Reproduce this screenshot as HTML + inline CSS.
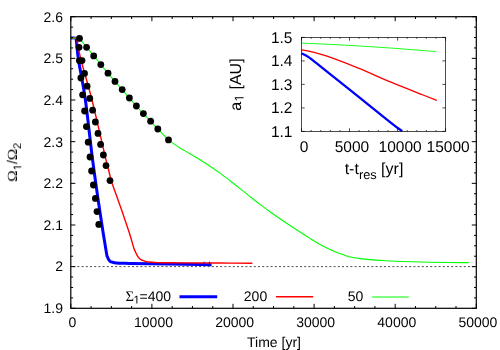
<!DOCTYPE html><html><head><meta charset="utf-8"><title>plot</title>
<style>html,body{margin:0;padding:0;background:#fff;}svg{display:block;}text{font-family:"Liberation Sans",sans-serif;fill:#000;text-rendering:geometricPrecision;}.s{font-family:"Liberation Serif",serif;}</style></head><body>
<svg width="500" height="350" viewBox="0 0 500 350">
<rect width="500" height="350" fill="#fff"/>
<line x1="70.8" y1="266.6" x2="476.3" y2="266.6" stroke="#000" stroke-width="0.7" stroke-dasharray="2,2.2" stroke-dashoffset="1.8"/>
<path d="M70.80 38.00C71.57 38.02 74.47 37.60 75.40 38.10C76.33 38.60 75.88 37.35 76.40 41.00C76.92 44.65 77.00 50.17 78.50 60.00C80.00 69.83 83.05 83.33 85.40 100.00C87.75 116.67 90.10 140.83 92.60 160.00C95.10 179.17 98.12 199.67 100.40 215.00C102.68 230.33 105.12 245.00 106.30 252.00C107.48 259.00 107.05 255.67 107.50 257.00C107.95 258.33 108.42 259.20 109.00 260.00C109.58 260.80 109.83 261.30 111.00 261.80C112.17 262.30 112.83 262.73 116.00 263.00C119.17 263.27 121.00 263.23 130.00 263.40C139.00 263.57 158.33 263.82 170.00 264.00C181.67 264.18 193.07 264.38 200.00 264.50C206.93 264.62 209.67 264.67 211.60 264.70" fill="none" stroke="#0000ff" stroke-width="3.0" stroke-linejoin="round"/>
<path d="M70.80 38.00C71.60 38.00 74.57 37.58 75.60 38.00C76.63 38.42 76.10 36.83 77.00 40.50C77.90 44.17 78.50 50.08 81.00 60.00C83.50 69.92 87.83 83.33 92.00 100.00C96.17 116.67 103.23 148.33 106.00 160.00C108.77 171.67 107.73 166.57 108.60 170.00C109.47 173.43 110.40 177.77 111.20 180.60C112.00 183.43 112.67 184.93 113.40 187.00C114.13 189.07 114.88 191.00 115.60 193.00C116.32 195.00 117.00 197.00 117.70 199.00C118.40 201.00 119.12 203.08 119.80 205.00C120.48 206.92 121.10 208.50 121.80 210.50C122.50 212.50 123.35 215.08 124.00 217.00C124.65 218.92 125.08 220.17 125.70 222.00C126.32 223.83 127.03 226.00 127.70 228.00C128.37 230.00 129.07 232.00 129.70 234.00C130.33 236.00 130.82 237.67 131.50 240.00C132.18 242.33 133.12 245.95 133.80 248.00C134.48 250.05 135.07 251.10 135.60 252.30C136.13 253.50 136.60 254.45 137.00 255.20C137.40 255.95 137.67 256.33 138.00 256.80C138.33 257.27 138.50 257.53 139.00 258.00C139.50 258.47 140.33 259.18 141.00 259.60C141.67 260.02 142.33 260.23 143.00 260.50C143.67 260.77 144.00 260.95 145.00 261.20C146.00 261.45 147.00 261.77 149.00 262.00C151.00 262.23 154.33 262.47 157.00 262.60C159.67 262.73 160.17 262.75 165.00 262.80C169.83 262.85 176.83 262.87 186.00 262.90C195.17 262.93 208.93 262.93 220.00 263.00C231.07 263.07 247.00 263.25 252.40 263.30" fill="none" stroke="#ff0000" stroke-width="1.4" stroke-linejoin="round"/>
<path d="M70.80 38.00C71.75 38.00 75.05 37.88 76.50 38.00C77.95 38.12 77.82 37.15 79.50 38.70C81.18 40.25 84.22 44.43 86.60 47.30C88.98 50.17 91.43 53.02 93.80 55.90C96.17 58.78 98.43 61.72 100.80 64.60C103.17 67.48 105.63 70.40 108.00 73.20C110.37 76.00 112.63 78.65 115.00 81.40C117.37 84.15 119.80 86.93 122.20 89.70C124.60 92.47 127.03 95.28 129.40 98.00C131.77 100.72 134.07 103.40 136.40 106.00C138.73 108.60 141.03 111.07 143.40 113.60C145.77 116.13 148.20 118.63 150.60 121.20C153.00 123.77 154.82 125.88 157.80 129.00C160.78 132.12 165.80 137.42 168.50 139.90C171.20 142.38 172.08 142.55 174.00 143.90C175.92 145.25 177.33 146.37 180.00 148.00C182.67 149.63 186.67 151.73 190.00 153.70C193.33 155.67 196.67 157.72 200.00 159.80C203.33 161.88 206.67 163.98 210.00 166.20C213.33 168.42 216.67 170.68 220.00 173.10C223.33 175.52 226.67 178.12 230.00 180.70C233.33 183.28 236.67 185.95 240.00 188.60C243.33 191.25 246.67 193.97 250.00 196.60C253.33 199.23 256.67 201.87 260.00 204.40C263.33 206.93 266.67 209.40 270.00 211.80C273.33 214.20 276.67 216.52 280.00 218.80C283.33 221.08 286.67 223.30 290.00 225.50C293.33 227.70 296.67 229.85 300.00 232.00C303.33 234.15 306.67 236.33 310.00 238.40C313.33 240.47 316.67 242.57 320.00 244.40C323.33 246.23 326.67 247.87 330.00 249.40C333.33 250.93 337.33 252.53 340.00 253.60C342.67 254.67 344.33 255.23 346.00 255.80C347.67 256.37 348.50 256.65 350.00 257.00C351.50 257.35 353.33 257.63 355.00 257.90C356.67 258.17 357.50 258.32 360.00 258.60C362.50 258.88 366.67 259.30 370.00 259.60C373.33 259.90 376.67 260.17 380.00 260.40C383.33 260.63 384.67 260.77 390.00 261.00C395.33 261.23 402.67 261.55 412.00 261.80C421.33 262.05 436.53 262.37 446.00 262.50C455.47 262.63 465.00 262.58 468.80 262.60" fill="none" stroke="#00ff00" stroke-width="1.1" stroke-linejoin="round"/>
<path d="M203.3 263.5l0.8 -2.4l0.9 2.4zM208.6 263.5l0.9 -2.8l0.9 2.8z" fill="#0000ff" opacity="0.75"/>
<circle cx="79.5" cy="38.4" r="3.4" fill="#000"/>
<circle cx="86.6" cy="47.3" r="3.4" fill="#000"/>
<circle cx="93.7" cy="55.9" r="3.4" fill="#000"/>
<circle cx="100.8" cy="64.6" r="3.4" fill="#000"/>
<circle cx="108" cy="73.2" r="3.4" fill="#000"/>
<circle cx="115" cy="81.4" r="3.4" fill="#000"/>
<circle cx="122.2" cy="89.6" r="3.4" fill="#000"/>
<circle cx="129.4" cy="98" r="3.4" fill="#000"/>
<circle cx="136.4" cy="106" r="3.4" fill="#000"/>
<circle cx="143.4" cy="113.6" r="3.4" fill="#000"/>
<circle cx="150.6" cy="121.2" r="3.4" fill="#000"/>
<circle cx="157.8" cy="129" r="3.4" fill="#000"/>
<circle cx="168.5" cy="139.9" r="3.4" fill="#000"/>
<circle cx="79" cy="47.3" r="3.4" fill="#000"/>
<circle cx="79.3" cy="60.6" r="3.4" fill="#000"/>
<circle cx="80.9" cy="78" r="3.4" fill="#000"/>
<circle cx="82.6" cy="94.8" r="3.4" fill="#000"/>
<circle cx="84.6" cy="111" r="3.4" fill="#000"/>
<circle cx="86.4" cy="126.6" r="3.4" fill="#000"/>
<circle cx="88.2" cy="142.2" r="3.4" fill="#000"/>
<circle cx="90" cy="157" r="3.4" fill="#000"/>
<circle cx="91.6" cy="171" r="3.4" fill="#000"/>
<circle cx="93.4" cy="185" r="3.4" fill="#000"/>
<circle cx="95.4" cy="198.4" r="3.4" fill="#000"/>
<circle cx="97" cy="211.6" r="3.4" fill="#000"/>
<circle cx="98.8" cy="224.4" r="3.4" fill="#000"/>
<circle cx="82" cy="60.6" r="3.4" fill="#000"/>
<circle cx="84.5" cy="73.4" r="3.4" fill="#000"/>
<circle cx="87.1" cy="86.2" r="3.4" fill="#000"/>
<circle cx="89.8" cy="98.4" r="3.4" fill="#000"/>
<circle cx="92.6" cy="110.2" r="3.4" fill="#000"/>
<circle cx="95.4" cy="122" r="3.4" fill="#000"/>
<circle cx="98" cy="133.4" r="3.4" fill="#000"/>
<circle cx="100.6" cy="144.4" r="3.4" fill="#000"/>
<circle cx="103.4" cy="155" r="3.4" fill="#000"/>
<circle cx="106" cy="165.6" r="3.4" fill="#000"/>
<circle cx="110" cy="180.6" r="3.4" fill="#000"/>
<rect x="70.8" y="16.7" width="405.5" height="291.6" fill="none" stroke="#000" stroke-width="1.2"/>
<path d="M70.80 308.3v-4.5M70.80 16.7v4.5M91.08 308.3v-2.3M91.08 16.7v2.3M111.35 308.3v-2.3M111.35 16.7v2.3M131.62 308.3v-2.3M131.62 16.7v2.3M151.90 308.3v-4.5M151.90 16.7v4.5M172.18 308.3v-2.3M172.18 16.7v2.3M192.45 308.3v-2.3M192.45 16.7v2.3M212.72 308.3v-2.3M212.72 16.7v2.3M233.00 308.3v-4.5M233.00 16.7v4.5M253.27 308.3v-2.3M253.27 16.7v2.3M273.55 308.3v-2.3M273.55 16.7v2.3M293.82 308.3v-2.3M293.82 16.7v2.3M314.10 308.3v-4.5M314.10 16.7v4.5M334.38 308.3v-2.3M334.38 16.7v2.3M354.65 308.3v-2.3M354.65 16.7v2.3M374.93 308.3v-2.3M374.93 16.7v2.3M395.20 308.3v-4.5M395.20 16.7v4.5M415.48 308.3v-2.3M415.48 16.7v2.3M435.75 308.3v-2.3M435.75 16.7v2.3M456.02 308.3v-2.3M456.02 16.7v2.3M476.30 308.3v-4.5M476.30 16.7v4.5M70.8 308.30h4.5M476.3 308.30h-4.5M70.8 297.89h2.3M476.3 297.89h-2.3M70.8 287.47h2.3M476.3 287.47h-2.3M70.8 277.06h2.3M476.3 277.06h-2.3M70.8 266.64h4.5M476.3 266.64h-4.5M70.8 256.23h2.3M476.3 256.23h-2.3M70.8 245.81h2.3M476.3 245.81h-2.3M70.8 235.40h2.3M476.3 235.40h-2.3M70.8 224.99h4.5M476.3 224.99h-4.5M70.8 214.57h2.3M476.3 214.57h-2.3M70.8 204.16h2.3M476.3 204.16h-2.3M70.8 193.74h2.3M476.3 193.74h-2.3M70.8 183.33h4.5M476.3 183.33h-4.5M70.8 172.91h2.3M476.3 172.91h-2.3M70.8 162.50h2.3M476.3 162.50h-2.3M70.8 152.09h2.3M476.3 152.09h-2.3M70.8 141.67h4.5M476.3 141.67h-4.5M70.8 131.26h2.3M476.3 131.26h-2.3M70.8 120.84h2.3M476.3 120.84h-2.3M70.8 110.43h2.3M476.3 110.43h-2.3M70.8 100.01h4.5M476.3 100.01h-4.5M70.8 89.60h2.3M476.3 89.60h-2.3M70.8 79.19h2.3M476.3 79.19h-2.3M70.8 68.77h2.3M476.3 68.77h-2.3M70.8 58.36h4.5M476.3 58.36h-4.5M70.8 47.94h2.3M476.3 47.94h-2.3M70.8 37.53h2.3M476.3 37.53h-2.3M70.8 27.11h2.3M476.3 27.11h-2.3M70.8 16.70h4.5M476.3 16.70h-4.5" stroke="#000" stroke-width="1" fill="none"/>
<line x1="179.5" y1="296.8" x2="217.2" y2="296.8" stroke="#0000ff" stroke-width="3.0"/>
<line x1="276" y1="296.8" x2="313.2" y2="296.8" stroke="#ff0000" stroke-width="1.4"/>
<line x1="372" y1="297" x2="408.8" y2="297" stroke="#00ff00" stroke-width="1.15"/>
<rect x="301.5" y="37.4" width="144.10000000000002" height="94.0" fill="#fff" stroke="none"/>
<path d="M301.50 53.40C302.25 53.75 304.42 54.60 306.00 55.50C307.58 56.40 307.50 56.12 311.00 58.80C314.50 61.48 319.00 65.20 327.00 71.60C335.00 78.00 348.33 88.67 359.00 97.20C369.67 105.73 383.80 117.13 391.00 122.80C398.20 128.47 400.33 129.80 402.20 131.20" fill="none" stroke="#0000ff" stroke-width="2.3" stroke-linejoin="round"/>
<path d="M301.50 49.80C303.08 50.10 306.75 50.53 311.00 51.60C315.25 52.67 319.00 53.40 327.00 56.20C335.00 59.00 348.33 64.07 359.00 68.40C369.67 72.73 380.33 77.77 391.00 82.20C401.67 86.63 415.37 91.97 423.00 95.00C430.63 98.03 434.50 99.50 436.80 100.40" fill="none" stroke="#ff0000" stroke-width="1.3" stroke-linejoin="round"/>
<path d="M301.50 43.10C307.92 43.40 326.92 44.20 340.00 44.90C353.08 45.60 368.33 46.53 380.00 47.30C391.67 48.07 400.70 48.78 410.00 49.50C419.30 50.22 431.50 51.25 435.80 51.60" fill="none" stroke="#00ff00" stroke-width="0.9" stroke-linejoin="round"/>
<rect x="301.5" y="37.4" width="144.10000000000002" height="94.0" fill="none" stroke="#000" stroke-width="0.7"/>
<path d="M301.50 131.4v-3.2M301.50 37.4v3.2M311.11 131.4v-1.4M311.11 37.4v1.4M320.71 131.4v-1.4M320.71 37.4v1.4M330.32 131.4v-1.4M330.32 37.4v1.4M339.93 131.4v-1.4M339.93 37.4v1.4M349.53 131.4v-3.2M349.53 37.4v3.2M359.14 131.4v-1.4M359.14 37.4v1.4M368.75 131.4v-1.4M368.75 37.4v1.4M378.35 131.4v-1.4M378.35 37.4v1.4M387.96 131.4v-1.4M387.96 37.4v1.4M397.57 131.4v-3.2M397.57 37.4v3.2M407.17 131.4v-1.4M407.17 37.4v1.4M416.78 131.4v-1.4M416.78 37.4v1.4M426.39 131.4v-1.4M426.39 37.4v1.4M435.99 131.4v-1.4M435.99 37.4v1.4M445.60 131.4v-3.2M445.60 37.4v3.2M301.5 37.40h3.2M445.6 37.40h-3.2M301.5 60.90h3.2M445.6 60.90h-3.2M301.5 84.40h3.2M445.6 84.40h-3.2M301.5 107.90h3.2M445.6 107.90h-3.2M301.5 131.40h3.2M445.6 131.40h-3.2" stroke="#000" stroke-width="0.7" fill="none"/>
<g opacity="0.999"><text x="63" y="313.1" font-size="14.0" text-anchor="end">1.9</text>
<text x="63" y="271.4" font-size="14.0" text-anchor="end">2</text>
<text x="63" y="229.8" font-size="14.0" text-anchor="end">2.1</text>
<text x="63" y="188.1" font-size="14.0" text-anchor="end">2.2</text>
<text x="63" y="146.5" font-size="14.0" text-anchor="end">2.3</text>
<text x="63" y="104.8" font-size="14.0" text-anchor="end">2.4</text>
<text x="63" y="63.2" font-size="14.0" text-anchor="end">2.5</text>
<text x="63" y="21.5" font-size="14.0" text-anchor="end">2.6</text>
<text x="72.4" y="327" font-size="14.0" text-anchor="middle">0</text>
<text x="153.5" y="327" font-size="14.0" text-anchor="middle">10000</text>
<text x="234.6" y="327" font-size="14.0" text-anchor="middle">20000</text>
<text x="315.7" y="327" font-size="14.0" text-anchor="middle">30000</text>
<text x="396.8" y="327" font-size="14.0" text-anchor="middle">40000</text>
<text x="477.9" y="327" font-size="14.0" text-anchor="middle">50000</text>
<text x="274" y="347.2" font-size="14.0" text-anchor="middle">Time [yr]</text>
<g transform="translate(17.0,162.3) rotate(-90)"><text x="-19.47" y="0.00" font-size="14.0" class="s" textLength="11.44" lengthAdjust="spacingAndGlyphs">Ω</text><path d="M-5.18 4.20L-5.18 -2.56L-6.92 -1.32L-6.92 -2.25L-5.10 -3.51L-4.19 -3.51L-4.19 4.20Z" fill="#000"/><text x="-1.79" y="0.00" font-size="14.0">/</text><text x="2.09" y="0.00" font-size="14.0" class="s" textLength="11.44" lengthAdjust="spacingAndGlyphs">Ω</text><text x="13.24" y="4.20" font-size="11.200000000000001">2</text></g>
<text x="125.54" y="301.00" font-size="14.6" class="s">Σ</text><path d="M136.38 303.50L136.38 296.74L134.64 297.98L134.64 297.05L136.46 295.79L137.37 295.79L137.37 303.50Z" fill="#000"/><text x="139.47" y="301.00" font-size="14.0">=400</text>
<text x="267.2" y="301" font-size="14.0" text-anchor="end">200</text>
<text x="363.3" y="301" font-size="14.0" text-anchor="end">50</text>
<text x="292.5" y="42.8" font-size="15.5" text-anchor="end">1.5</text>
<text x="292.5" y="66.3" font-size="15.5" text-anchor="end">1.4</text>
<text x="292.5" y="89.8" font-size="15.5" text-anchor="end">1.3</text>
<text x="292.5" y="113.3" font-size="15.5" text-anchor="end">1.2</text>
<text x="292.5" y="136.8" font-size="15.5" text-anchor="end">1.1</text>
<text x="304.0" y="152" font-size="15.5" text-anchor="middle">0</text>
<text x="352.0" y="152" font-size="15.5" text-anchor="middle">5000</text>
<text x="400.1" y="152" font-size="15.5" text-anchor="middle">10000</text>
<text x="448.1" y="152" font-size="15.5" text-anchor="middle">15000</text>
<text x="374" y="174" font-size="16.0" text-anchor="middle">t-t<tspan font-size="12.8" dy="4.5">res</tspan><tspan dy="-4.5"> [yr]</tspan></text>
<g transform="translate(240.6,84.6) rotate(-90)"><text x="-26.19" y="0.00" font-size="16.0">a</text><path d="M-13.70 3.00L-13.70 -4.73L-15.69 -3.31L-15.69 -4.38L-13.60 -5.81L-12.57 -5.81L-12.57 3.00Z" fill="#000"/><text x="-4.93" y="0.00" font-size="16.0">[AU]</text></g></g>
</svg></body></html>
